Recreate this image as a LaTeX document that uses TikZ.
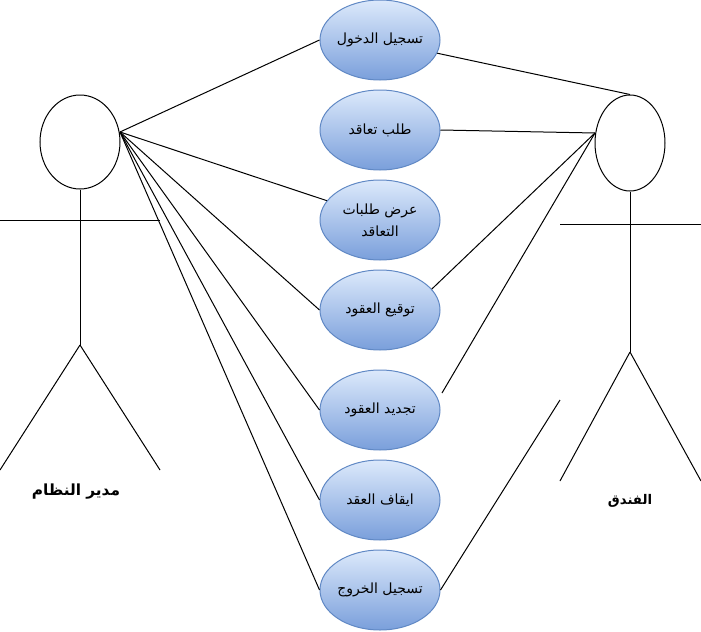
\documentclass[tikz,border=0pt]{standalone}
\usepackage{fontspec}
\newfontfamily\arabicfont[Script=Arabic]{DejaVu Sans}
\TeXXeTstate=1
\usetikzlibrary{shapes}
\definecolor{casetop}{HTML}{DCE9FB}
\definecolor{casebot}{HTML}{7A9FDB}
\definecolor{caseline}{HTML}{6088C4}

\begin{document}
\begin{tikzpicture}[x=.75pt, y=-.75pt, line width=.75pt,
  usecase/.style={ellipse, draw=caseline, top color=casetop, bottom color=casebot, minimum width=90pt, minimum height=60pt, inner sep=-8pt, align=center, font=\arabicfont\fontsize{10.5}{16.5}\selectfont},
  head/.style={ellipse, draw, inner sep=0pt},
  actorname/.style={inner sep=0pt, font=\arabicfont\bfseries\fontsize{10}{12}\selectfont}]
  \useasboundingbox (0,0) rectangle (701,632);

  \node[usecase] (c1) at (380,40) {\beginR تسجيل الدخول\endR};
  \node[usecase] (c2) at (380,130) {\beginR طلب تعاقد\endR};
  \node[usecase] (c3) at (380,220) {\beginR عرض طلبات\endR\\\beginR التعاقد\endR};
  \node[usecase] (c4) at (380,310) {\beginR توقيع العقود\endR};
  \node[usecase] (c5) at (380,410) {\beginR تجديد العقود\endR};
  \node[usecase] (c6) at (380,500) {\beginR ايقاف العقد\endR};
  \node[usecase] (c7) at (380,590) {\beginR تسجيل الخروج\endR};

  \node[head, minimum width=60pt, minimum height=70.5pt] (h1) at (80,142) {};
  \node[head, minimum width=52.5pt, minimum height=72pt] (h2) at (630,143) {};

  \coordinate (l1) at (120,132);
  \coordinate (r1) at (595,133);
  \coordinate (e5) at (442,393);
  \coordinate (e7) at (560,400);

  \coordinate (n1) at (80,345);
  \coordinate (n2) at (0,220);
  \coordinate (n3) at (160,220);
  \coordinate (n4) at (0,470);
  \coordinate (n5) at (160,470);
  \coordinate (k1) at (630,352);
  \coordinate (k2) at (560,224);
  \coordinate (k3) at (701,224);
  \coordinate (k4) at (560,481);
  \coordinate (k5) at (701,481);

  \draw (h1.south) -- (n1);
  \draw (n2) -- (n3);
  \draw (n1) -- (n4);
  \draw (n1) -- (n5);
  \draw (h2.south) -- (k1);
  \draw (k2) -- (k3);
  \draw (k1) -- (k4);
  \draw (k1) -- (k5);

  \draw (l1) -- (c1.west);
  \draw (l1) -- (c3.160);
  \draw (l1) -- (c4.west);
  \draw (l1) -- (c5.west);
  \draw (l1) -- (c6.west);
  \draw (l1) -- (c7.west);

  \draw (c1.-13) -- (h2.north);
  \draw (c2.east) -- (r1);
  \draw (c4.22) -- (r1);
  \draw (e5) -- (r1);
  \draw (c7.east) -- (e7);

  \node[actorname, font=\arabicfont\bfseries\fontsize{11.5}{14}\selectfont] (a1) at (76,492) {\beginR مدير النظام\endR};
  \node[actorname] (a2) at (630,501) {\beginR الفندق\endR};
\end{tikzpicture}
\end{document}
